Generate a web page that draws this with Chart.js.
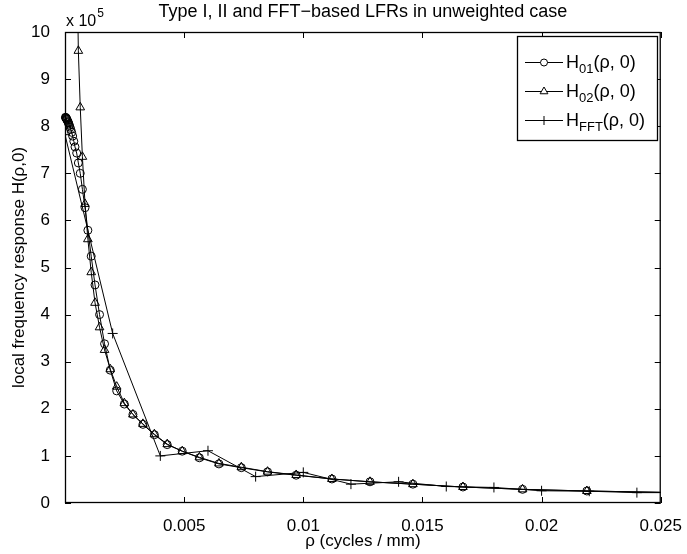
<!DOCTYPE html>
<html lang="en">
<head>
<meta charset="UTF-8">
<title>Type I, II and FFT-based LFRs in unweighted case</title>
<script src="https://cdn.jsdelivr.net/npm/chart.js"></script>
<style>
  body { margin: 0; background: #fff; }
  canvas { display: block; }
</style>
</head>
<body>
<canvas id="lfrChart" width="687" height="554"></canvas>
<script>
// rho in cycles/mm, responses in units of 1e5
const rho01 = [0.00002, 0.00003, 0.00004, 0.00005, 0.00006, 0.00007, 0.00008, 0.0001, 0.00012, 0.00014,
  0.00016, 0.00018, 0.00021, 0.00024, 0.00028, 0.00032, 0.00037, 0.00042, 0.00049, 0.00056,
  0.00064, 0.00073, 0.00084, 0.00096, 0.0011, 0.00126, 0.00145, 0.00166, 0.0019, 0.00217,
  0.00249, 0.00285, 0.00327, 0.00375, 0.00429, 0.00492, 0.00564, 0.00646, 0.0074, 0.0085,
  0.0097, 0.0112, 0.0128, 0.0146, 0.0167, 0.0192, 0.0219, 0.0252];
const h01 = [8.19, 8.18, 8.18, 8.17, 8.16, 8.15, 8.14, 8.12, 8.10, 8.08,
  8.05, 8.02, 7.98, 7.93, 7.87, 7.79, 7.68, 7.56, 7.43, 7.22,
  7.00, 6.66, 6.27, 5.79, 5.24, 4.63, 4.00, 3.38, 2.82, 2.38,
  2.10, 1.88, 1.67, 1.45, 1.24, 1.10, 0.96, 0.83, 0.75, 0.66,
  0.59, 0.51, 0.45, 0.40, 0.34, 0.29, 0.255, 0.225];

const rho02 = [0.00049, 0.00056, 0.00064, 0.00073, 0.00084, 0.00096, 0.0011, 0.00126, 0.00145, 0.00166,
  0.0019, 0.00217, 0.00249, 0.00285, 0.00327, 0.00375, 0.00429, 0.00492, 0.00564, 0.00646,
  0.0074, 0.0085, 0.0097, 0.0112, 0.0128, 0.0146, 0.0167, 0.0192, 0.0219, 0.0252];
const h02 = [12.0, 9.6, 8.4, 7.35, 6.35, 5.6, 4.9, 4.25, 3.73, 3.25,
  2.84, 2.47, 2.12, 1.88, 1.68, 1.46, 1.25, 1.10, 0.97, 0.84,
  0.76, 0.665, 0.595, 0.51, 0.45, 0.40, 0.34, 0.29, 0.255, 0.225];

const rhoFFT = [0, 0.002, 0.004, 0.006, 0.008, 0.010, 0.012, 0.014, 0.016, 0.018, 0.020, 0.022, 0.024, 0.026];
const hFFT = [7.82, 3.60, 1.00, 1.11, 0.56, 0.65, 0.40, 0.45, 0.35, 0.33, 0.26, 0.25, 0.22, 0.22];

const xTicks = [0, 0.005, 0.01, 0.015, 0.02, 0.025];
const yTicks = [0, 1, 2, 3, 4, 5, 6, 7, 8, 9, 10];

const legendRows = [
  { sub: '01', style: 'circle', r: 3.5 },
  { sub: '02', style: 'triangle', r: 4.5 },
  { sub: 'FFT', style: 'cross', r: 4.5 }
];

const FONT = '"Liberation Sans", Arial, Helvetica, sans-serif';

function toPoints(xs, ys) {
  return xs.map((x, i) => ({ x: x, y: ys[i] }));
}

// box, inward ticks, title, exponent and the matlab-like legend
const matlabFrame = {
  id: 'matlabFrame',
  afterDatasetsDraw(chart) {
    const { ctx, chartArea: a, scales: { x, y } } = chart;
    ctx.save();
    ctx.strokeStyle = '#000';
    ctx.lineWidth = 1;
    ctx.beginPath();
    xTicks.forEach(v => {
      const px = Math.round(x.getPixelForValue(v)) + 0.5;
      ctx.moveTo(px, a.bottom); ctx.lineTo(px, a.bottom - 6);
      ctx.moveTo(px, a.top); ctx.lineTo(px, a.top + 6);
    });
    yTicks.forEach(v => {
      const py = Math.round(y.getPixelForValue(v)) + 0.5;
      ctx.moveTo(a.left, py); ctx.lineTo(a.left + 6, py);
      ctx.moveTo(a.right, py); ctx.lineTo(a.right - 6, py);
    });
    ctx.stroke();
    ctx.lineWidth = 1.3;
    ctx.strokeRect(a.left + 0.5, a.top + 0.5, a.width - 1, a.height - 1);
    ctx.restore();
  },
  afterDraw(chart) {
    const { ctx, chartArea: a } = chart;
    ctx.save();
    ctx.fillStyle = '#000';
    ctx.textBaseline = 'alphabetic';

    ctx.font = '18px ' + FONT;
    ctx.textAlign = 'center';
    ctx.fillText('Type I, II and FFT\u2212based LFRs in unweighted case', (a.left + a.right) / 2, 17);

    ctx.textAlign = 'left';
    ctx.font = '16px ' + FONT;
    ctx.fillText('x 10', a.left + 1, 26);
    const w10 = ctx.measureText('x 10').width;
    ctx.font = '12px ' + FONT;
    ctx.fillText('5', a.left + 2 + w10, 17);

    // legend
    const lx = 517, ly = 36, lw = 140, lh = 104;
    ctx.fillStyle = '#fff';
    ctx.fillRect(lx, ly, lw, lh);
    ctx.strokeStyle = '#000';
    ctx.lineWidth = 1.3;
    ctx.strokeRect(lx + 0.5, ly + 0.5, lw, lh);
    ctx.lineWidth = 1;
    legendRows.forEach((row, i) => {
      const yy = ly + 26 + i * 29;
      ctx.strokeStyle = '#000';
      ctx.beginPath();
      ctx.moveTo(lx + 8, yy + 0.5);
      ctx.lineTo(lx + 46, yy + 0.5);
      ctx.stroke();
      ctx.fillStyle = '#fff';
      Chart.helpers.drawPoint(ctx, { pointStyle: row.style, radius: row.r, borderWidth: 1, rotation: 0 }, lx + 27, yy + 0.5);
      ctx.fillStyle = '#000';
      let tx = lx + 49;
      ctx.font = '18px ' + FONT;
      ctx.fillText('H', tx, yy + 6);
      tx += ctx.measureText('H').width;
      ctx.font = '13px ' + FONT;
      ctx.fillText(row.sub, tx, yy + 11);
      tx += ctx.measureText(row.sub).width;
      ctx.font = '18px ' + FONT;
      ctx.fillText('(\u03c1, 0)', tx, yy + 6);
    });
    ctx.restore();
  }
};

const ctx = document.getElementById('lfrChart').getContext('2d');
new Chart(ctx, {
  type: 'line',
  data: {
    datasets: [
      {
        label: 'H01',
        data: toPoints(rho01, h01),
        borderColor: '#000',
        borderWidth: 1,
        pointStyle: 'circle',
        pointRadius: 4,
        pointBorderWidth: 1,
        pointBorderColor: '#000',
        pointBackgroundColor: 'rgba(0,0,0,0)',
        clip: { left: 6, top: 0, right: 0, bottom: 0 }
      },
      {
        label: 'H02',
        data: toPoints(rho02, h02),
        borderColor: '#000',
        borderWidth: 1,
        pointStyle: 'triangle',
        pointRadius: 5,
        pointBorderWidth: 1,
        pointBorderColor: '#000',
        pointBackgroundColor: 'rgba(0,0,0,0)',
        clip: 0
      },
      {
        label: 'HFFT',
        data: toPoints(rhoFFT, hFFT),
        borderColor: '#000',
        borderWidth: 1,
        pointStyle: 'cross',
        pointRadius: 5,
        pointBorderWidth: 1,
        pointBorderColor: '#000',
        clip: 0
      }
    ]
  },
  options: {
    responsive: false,
    animation: false,
    devicePixelRatio: 1,
    layout: { padding: { top: 32, right: 24, left: 0, bottom: 0 } },
    plugins: {
      legend: { display: false },
      tooltip: { enabled: false }
    },
    scales: {
      x: {
        type: 'linear',
        min: 0,
        max: 0.025,
        afterFit: s => { s.height = 51; },
        afterBuildTicks: s => { s.ticks = xTicks.map(v => ({ value: v })); },
        grid: { display: false },
        border: { display: false },
        ticks: {
          color: '#000',
          padding: 5,
          maxRotation: 0,
          font: { size: 17, family: FONT },
          callback: v => v === 0 ? '' : String(+v.toFixed(3))
        },
        title: {
          display: true,
          text: '\u03c1 (cycles / mm)',
          color: '#000',
          font: { size: 17, family: FONT },
          padding: { top: 0, bottom: 2 }
        }
      },
      y: {
        type: 'linear',
        min: 0,
        max: 10,
        afterFit: s => { s.width = 65; },
        afterBuildTicks: s => { s.ticks = yTicks.map(v => ({ value: v })); },
        grid: { display: false },
        border: { display: false },
        ticks: {
          color: '#000',
          padding: 7,
          font: { size: 17, family: FONT }
        },
        title: {
          display: true,
          text: 'local frequency response H(\u03c1,0)',
          color: '#000',
          font: { size: 17, family: FONT },
          padding: { top: 9, bottom: 0 }
        }
      }
    }
  },
  plugins: [matlabFrame]
});
</script>
</body>
</html>
